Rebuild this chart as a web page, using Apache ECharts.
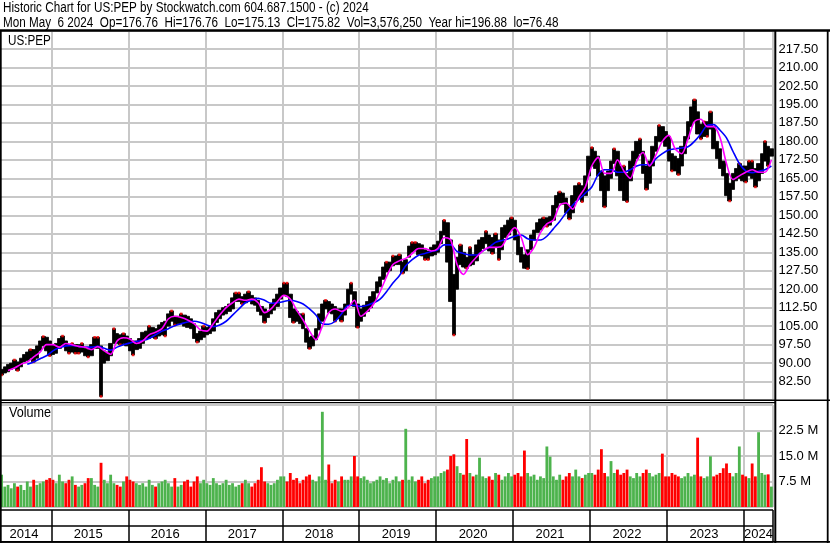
<!DOCTYPE html>
<html><head><meta charset="utf-8">
<script src="https://cdn.jsdelivr.net/npm/echarts@6/dist/echarts.min.js"></script>
<style>html,body{margin:0;padding:0;background:#fff}#c{width:830px;height:543px}</style>
</head><body><div id="c"></div>
<script>
// ---------- data (semi-monthly bars, May 2014 .. May 2024) ----------
const titleLine1 = 'Historic Chart for US:PEP by Stockwatch.com 604.687.1500 - (c) 2024';
const titleLine2 = 'Mon May  6 2024  Op=176.76  Hi=176.76  Lo=175.13  Cl=175.82  Vol=3,576,250  Year hi=196.88  lo=76.48';
const symbolLabel = 'US:PEP';
const volumeLabel = 'Volume';
const firstYear = 2014, firstMonth = 5, lastYear = 2024, lastMonth = 5;

const priceHigh = [
 87.5,88.5, 89.5,90, 91.3,90.5, 92,93.5, 94.5,95.5, 95.5,97, 99,100.8, 100.5,99,
 97.5,98, 100,101, 99,97.5, 98,97.5, 97.5,98, 96,95.5, 97.5,100.5, 100.5,97, 95,94.5, 98,104, 102,101.5, 102,101,
 100,99, 99,100, 102.5,103, 105,104.5, 104,105.5, 106.5,107, 110,111.2, 109,109, 110,109.5, 109,108, 106,102, 103,105,
 104.5,105, 108,110.5, 111.5,112.5, 113,114, 116.5,118.5, 118.5,117, 118,119, 117.5,116.5, 115.5,113, 112,111, 114,116, 118,120.5,
 122.5,122.5, 118,112, 111,110, 110,104, 100.5,101, 104,110, 114,115.5, 115,114, 113,112, 112,114, 120,122.5, 119,114,
 112,113.5, 115,117, 119,123, 125,129, 131,131, 133.5,133.5, 134,131, 132,137.5, 139,139, 138.5,138, 136,135.5, 137,138,
 139.5,143.5, 148,147, 140,126, 133,138, 135,133, 137,134, 138,140, 141,143.5, 142,141, 142.5,140, 145,146, 148,149,
 148,142, 137,134, 136,142, 144,147, 148.5,149, 149,149.5, 154,158, 159.5,159, 157,154, 158,162, 163,162, 166,174,
 177.5,176, 174,168, 166,168, 172,177, 176,170, 170,167, 172,176, 180,181, 176,170, 172,178, 182,186.5, 186,184,
 182,175, 174,173, 178,182, 188,194, 196.9,192, 187,188, 188,192, 186,180, 177,172, 167,163, 167,169, 171,170,
 170,172, 172,169, 171,175, 180,178, 177
];
const priceLow = [
 85.2,86, 86.5,87.5, 88,87, 88.5,90.5, 91,92, 90.5,92, 95,97, 95,93,
 93.5,94, 96,97, 95,94, 94.5,94, 94,94.5, 93,92.5, 93,96, 96,76.48, 90,91, 93,98, 98,97.5, 98,97,
 95,93.3, 95.5,96, 98,99.5, 100,100.5, 100,101, 101.5,101, 105,107, 105.5,106, 106,105, 104.5,104, 100,98.5, 99.5,100.5,
 101.5,102, 103,106.5, 108,109.5, 110,111, 112,115, 115,114, 114.5,115.5, 114,113.5, 111,109.5, 106.5,108.5, 110,111.5, 113,116,
 117.5,117, 108.5,106.5, 107,106, 104,98.5, 95.9,97, 99.5,103.5, 107,112, 110.5,110, 107,108, 107,109.5, 113.5,118, 113,104.5,
 107,109, 111,112.5, 115,118.5, 121,124, 127,127.5, 129.5,130, 130,126.5, 127.5,133, 135,135.5, 134,133.5, 132,132, 133.5,134,
 135,138.5, 142,131, 115,101.4, 120,130, 129,128.5, 129.5,130, 131.5,135, 136.5,138.5, 135.5,134.5, 137,132, 136,141, 142,144,
 140,134, 131,128.5, 128.3,136, 140,143, 144,145.5, 145.5,146, 148,153, 155,154.5, 151,148.5, 151,156, 157,155.5, 158,166,
 170,169, 166,160, 153.4,160, 165,171, 166,160, 156,155.5, 164,170, 173,175, 167,160.5, 163,170, 176,180, 180,178,
 172,168, 168,166.5, 170,175, 181,186, 188,183, 181,182, 182,185, 177,173, 169,166, 158,155.8, 160.5,164, 165,164,
 163.5,166, 165,161.5, 164,167, 172,170, 174
];
// volume in millions of shares (largest session in each half month)
const volumeM = [
 9.5,6,6.5,5.5,7,6,6.5,5,7.5,6,8,6.5,7,7.5,8,8.5,
 8,7,9.5,7.5,7,8,9,6.5,6,6.5,7,8.5,8.5,6.5,6,13,8,7,9.5,7,6.5,6,7.5,9,
 8,7.5,7,6.5,7,6,8,6.5,6,7,7.5,8,7,6,8.5,6,6.5,7.5,8,6,7.5,9,7,8,
 7,6.5,8.5,7,6.5,7,8,6.5,7,6,6.5,7,8,7,6,7,8,11.7,7.5,7,6.5,7,8,9,
 9,7.5,10,8,8.5,7,8,9,9.5,8,7.5,9,28,8,12.5,7,8,7.5,9,8,8,9,15,9,
 8.5,9,8,7,7.5,8,9,8,8.5,7,8,9,7.5,8,23,8,9,7.5,8,9,7,8,8.5,9,
 9,10,10.5,11,15,15.5,12,10,9.5,20,10,9,9.5,14.5,9,8.5,9,8,10,9.5,8,9,10,9,
 9.5,10,9,16.6,10,9,9.5,8,9,8.5,17.8,14.8,9,8,9.5,8,9,10,9,11,9,8.5,9.5,10,
 10,9.5,11,17,10,9,13.5,10,11,9.5,10,11,9,8.5,10,9,10,11,10,9,9.5,10,15.7,9,
 9,10,9.5,9,8.5,9,10,9,9.5,20.4,9,8.5,9,14.9,9,9.5,10,11.4,12.8,10,9,10,17.8,9.5,
 9,8.5,12.8,9,22,10,9.5,9.6,6
];
// moving averages read monthly (first half of each month)
const maFast = [null,87,88,89.5,90.5,92.5,94.5,97.5,97.5,96.5,98,97.5,96.8,96.5,95.5,96.7,95,93.6,99,100.3,99.8,98,99,101.5,102.5,104,108,109,108.5,107.5,106,103.5,103,106,109.5,112.5,114.5,116,115.5,116,114.5,110.5,112,115,117.5,116,111.5,107.5,103,99.5,105,110.5,112,111,112.5,115.5,109,111,114,119,125,130,131.5,132.5,134.5,136.5,136.5,135.5,136.5,141,140,130,126,130,133,135.5,137,137,137.5,142,145,141,134,137,143,146.5,148,154,155,152.5,157.5,161.5,170,173.5,167,167,172.5,168,165,172,175.5,170,174.5,180,182.5,177,175,181,188,189,186,186,181.5,171,164.5,166,167.5,168.5,167.5,167.5,172.5];
const maSlow = [null,null,null,null,89.5,90.5,91.8,93,95,96.2,97,97.2,96.8,96.5,96.5,96.8,96,95.3,96.5,97.5,98.2,98.8,99.2,100,101.5,103,104,105.2,106,106.7,107,106.5,105.5,104.8,105.5,107,109.5,112,114.5,115.5,116.3,115.5,114.3,114.5,115,115.5,115,114,112,109.5,106,105.8,107,110,113.4,113.5,113,113.5,114.5,116,119,122.5,125.5,129.5,132,133.8,134.5,135.3,136,138,138,135.3,134.5,133.9,133.9,135.5,137,139,139.8,140.5,141.5,142,140.5,140,140,141.5,144.5,147.5,151,154,156.5,159,161.5,166.5,168.5,168.5,167.5,167.5,168.5,170,170.5,170.5,173,175,176.5,177,177.3,177.8,180,183,186.5,186.8,184.5,181.4,176,171,168,167.3,167.9,168.5,170];

// ---------- build ----------
const categories = [];
for (let y = firstYear; y <= lastYear; y++) {
  for (let m = 1; m <= 12; m++) {
    for (let h = 0; h < 2; h++) {
      if (y === firstYear && m < firstMonth) continue;
      if (y === lastYear && (m > lastMonth || (m === lastMonth && h === 1))) continue;
      categories.push(y + '-' + String(m).padStart(2, '0') + (h ? 'b' : 'a'));
    }
  }
}
const isYearStart = (i) => categories[i] && categories[i].slice(5) === '01a';
const isYearLabel = (i) => {
  const c = categories[i]; const y = +c.slice(0, 4);
  if (y === firstYear) return c.slice(5) === '08b';
  if (y === lastYear) return c.slice(5) === '03a';
  return c.slice(5) === '06b';
};
const candle = priceLow.map((lo, i) => [lo, priceHigh[i], lo, priceHigh[i]]);
const mid = priceLow.map((lo, i) => (lo + priceHigh[i]) / 2);
const volData = volumeM.map((v, i) => ({
  value: v,
  itemStyle: { color: (i === 0 || mid[i] >= mid[i - 1]) ? '#4db34d' : '#ff0000' }
}));
// red end ticks at local extremes of the bars
const redTicks = [];
priceHigh.forEach((h, i) => {
  const p = priceHigh[i - 1], n = priceHigh[i + 1];
  if ((p === undefined || h >= p) && (n === undefined || h >= n)) redTicks.push([i, h]);
});
priceLow.forEach((l, i) => {
  const p = priceLow[i - 1], n = priceLow[i + 1];
  if ((p === undefined || l <= p) && (n === undefined || l <= n)) redTicks.push([i, l]);
});
const maFastData = [], maSlowData = [];
maFast.forEach((v, i) => { if (v != null) maFastData.push([i * 2, v]); });
maSlow.forEach((v, i) => { if (v != null) maSlowData.push([i * 2, v]); });

const FONT = "'Liberation Sans',Arial,sans-serif";
const GRID_COLOR = '#c8c8c8';
const plotW = 773;
const SX = 0.835; // condensed look of the original caption font

const catAxis = (gi) => ({
  type: 'category', gridIndex: gi, data: categories, boundaryGap: true,
  axisLine: { show: false }, axisTick: { show: false }, axisLabel: { show: false },
  splitLine: { show: true, interval: (i) => isYearStart(i), lineStyle: { color: GRID_COLOR, width: 2 } }
});
const caption = (text, x, y, sx) => ({
  type: 'text', x: x, y: y, scaleX: sx, z: 100,
  style: { text: text, font: '14px ' + FONT, fill: '#000', verticalAlign: 'top', align: 'left' }
});

const option = {
  animation: false,
  backgroundColor: '#fff',
  textStyle: { fontFamily: FONT },
  grid: [
    { left: 0, top: 30.5, width: plotW, height: 369.6 },
    { left: 0, top: 405, width: plotW, height: 102 },
    { left: 0, top: 510, width: plotW, height: 32 }
  ],
  xAxis: [
    catAxis(0), catAxis(1),
    {
      type: 'category', gridIndex: 2, data: categories, boundaryGap: true,
      axisLine: { show: false }, axisTick: { show: false },
      axisLabel: { show: true, interval: (i) => isYearLabel(i), inside: true, margin: 7.5,
        verticalAlign: 'middle', formatter: (v) => v.slice(0, 4),
        color: '#000', fontSize: 13, fontFamily: FONT },
      splitLine: { show: true, interval: (i) => isYearStart(i), lineStyle: { color: '#000', width: 1.5 } }
    }
  ],
  yAxis: [
    {
      type: 'value', gridIndex: 0, position: 'right', min: 75, max: 225, interval: 7.5,
      axisLine: { show: false }, axisTick: { show: false },
      axisLabel: { margin: 5.5, color: '#000', fontSize: 13, fontFamily: FONT,
        formatter: (v) => (v <= 75 || v >= 225) ? '' : v.toFixed(2) },
      splitLine: { lineStyle: { color: GRID_COLOR, width: 2 } }
    },
    {
      type: 'value', gridIndex: 1, position: 'right', min: 0, max: 30, interval: 7.5,
      axisLine: { show: false }, axisTick: { show: false },
      axisLabel: { margin: 5.5, color: '#000', fontSize: 13, fontFamily: FONT,
        formatter: (v) => (v <= 0 || v >= 30) ? '' : v.toFixed(1) + ' M' },
      splitLine: { lineStyle: { color: GRID_COLOR, width: 2 } }
    },
    {
      type: 'value', gridIndex: 2, min: 0, max: 2, interval: 1,
      axisLine: { show: false }, axisTick: { show: false }, axisLabel: { show: false },
      splitLine: { lineStyle: { color: '#000', width: 1.5 } }
    }
  ],
  series: [
    {
      type: 'candlestick', xAxisIndex: 0, yAxisIndex: 0, data: candle, barWidth: 4,
      itemStyle: { color: '#000', color0: '#000', borderColor: '#000', borderColor0: '#000', borderWidth: 0.8 }
    },
    {
      type: 'scatter', xAxisIndex: 0, yAxisIndex: 0, data: redTicks, symbol: 'rect', symbolSize: [2.5, 2.5],
      itemStyle: { color: '#ff0000' }, z: 3, silent: true
    },
    {
      type: 'line', xAxisIndex: 0, yAxisIndex: 0, data: maSlowData, showSymbol: false, smooth: 0.3,
      lineStyle: { color: '#0000ff', width: 1.6 }, z: 4
    },
    {
      type: 'line', xAxisIndex: 0, yAxisIndex: 0, data: maFastData, showSymbol: false, smooth: 0.3,
      lineStyle: { color: '#ff00ff', width: 1.6 }, z: 5
    },
    {
      type: 'bar', xAxisIndex: 1, yAxisIndex: 1, data: volData, barWidth: '88%'
    }
  ],
  graphic: [
    caption(titleLine1, 3, 1.5, SX),
    caption(titleLine2, 3, 16.5, SX),
    caption(symbolLabel, 8, 34.5, SX),
    caption(volumeLabel, 9, 406.5, 0.9),
    // frame
    { type: 'rect', shape: { x: 0, y: 29.3, width: 830, height: 2.4 }, style: { fill: '#000' }, z: 100 },
    { type: 'rect', shape: { x: 0, y: 30, width: 1.7, height: 513 }, style: { fill: '#000' }, z: 100 },
    { type: 'rect', shape: { x: 774.3, y: 30, width: 2, height: 513 }, style: { fill: '#000' }, z: 100 },
    { type: 'rect', shape: { x: 826.8, y: 30, width: 1.8, height: 513 }, style: { fill: '#000' }, z: 100 },
    { type: 'rect', shape: { x: 0, y: 399.6, width: 830, height: 1.4 }, style: { fill: '#000' }, z: 100 },
    { type: 'rect', shape: { x: 0, y: 402, width: 776, height: 1.2 }, style: { fill: '#000' }, z: 100 },
    { type: 'rect', shape: { x: 0, y: 541, width: 830, height: 1.8 }, style: { fill: '#000' }, z: 100 }
  ]
};
const chart = echarts.init(document.getElementById('c'), null, { renderer: 'canvas' });
chart.setOption(option);
</script>
</body></html>
